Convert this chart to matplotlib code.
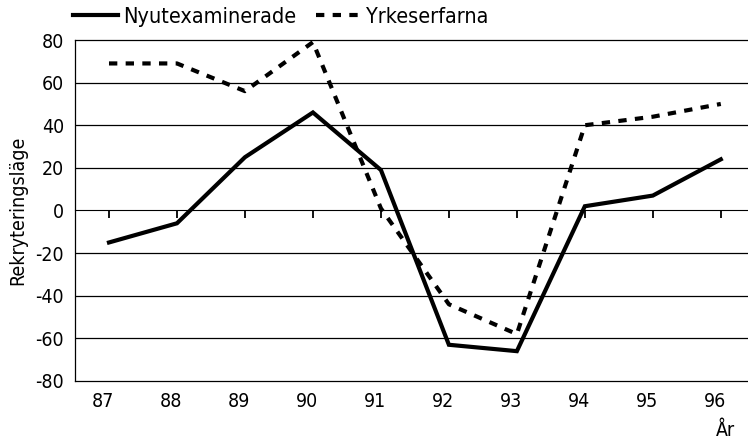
import matplotlib
matplotlib.use("Agg")
import matplotlib.pyplot as plt
import matplotlib.transforms as mtransforms
from matplotlib.lines import Line2D

years = ["87", "88", "89", "90", "91", "92", "93", "94", "95", "96"]
nyutexaminerade = [-15, -6, 25, 46, 19, -63, -66, 2, 7, 24]
yrkeserfarna = [69, 69, 56, 79, 1, -44, -58, 40, 44, 50]
yticks = [-80, -60, -40, -20, 0, 20, 40, 60, 80]

plt.rcParams['font.family'] = ['DejaVu Sans']
plt.rcParams['font.stretch'] = 'condensed'

fig = plt.figure(figsize=(7.48, 4.45), dpi=100)
ax = fig.add_axes([75/748, 1-381/445, 1-75/748, (381-40)/445])

x = list(range(len(years)))
ax.plot(x, nyutexaminerade, color='black', lw=3, solid_joinstyle='miter')
ax.plot(x, yrkeserfarna, color='black', lw=3, linestyle=(0, (2, 2)),
        dash_capstyle='butt')

ax.set_ylim(-80, 80)
ax.set_xlim(-0.5, 9.4)
ax.set_yticks(yticks)
ax.set_yticklabels([str(v) for v in yticks], fontsize=14)
ax.set_xticks(x)
ax.set_xticklabels(years, fontsize=14)
ax.tick_params(axis='both', length=0, pad=8)
off = mtransforms.ScaledTranslation(-6/100, 0, fig.dpi_scale_trans)
for lab in ax.get_xticklabels():
    lab.set_transform(lab.get_transform() + off)

for v in yticks[1:-1]:
    if v != 0:
        ax.axhline(v, color='black', lw=0.9, zorder=0)

ax.spines['right'].set_visible(False)
for s in ['left', 'top', 'bottom']:
    ax.spines[s].set_linewidth(0.9)

sec = ax.secondary_xaxis(0.5)
sec.set_xticks(x)
sec.set_xticklabels([])
sec.tick_params(direction='in', length=6, width=1.3)
sec.spines['bottom'].set_linewidth(2)

ax.set_ylabel("Rekryteringsläge", fontsize=14, labelpad=6)
fig.text(725/748, 1-430/445, "År", fontsize=14, ha='center', va='center')

handles = [Line2D([], [], color='black', lw=3),
           Line2D([], [], color='black', lw=3, linestyle=(0, (2, 2)), dash_capstyle='butt')]
fig.legend(handles, ["Nyutexaminerade", "Yrkeserfarna"], loc='center left',
           bbox_to_anchor=(73/748, 1-17/445), ncol=2, frameon=False, fontsize=15.5,
           handlelength=2.1, handletextpad=0.23, columnspacing=0.93,
           borderpad=0, borderaxespad=0)

fig.savefig("out.png", dpi=100)
